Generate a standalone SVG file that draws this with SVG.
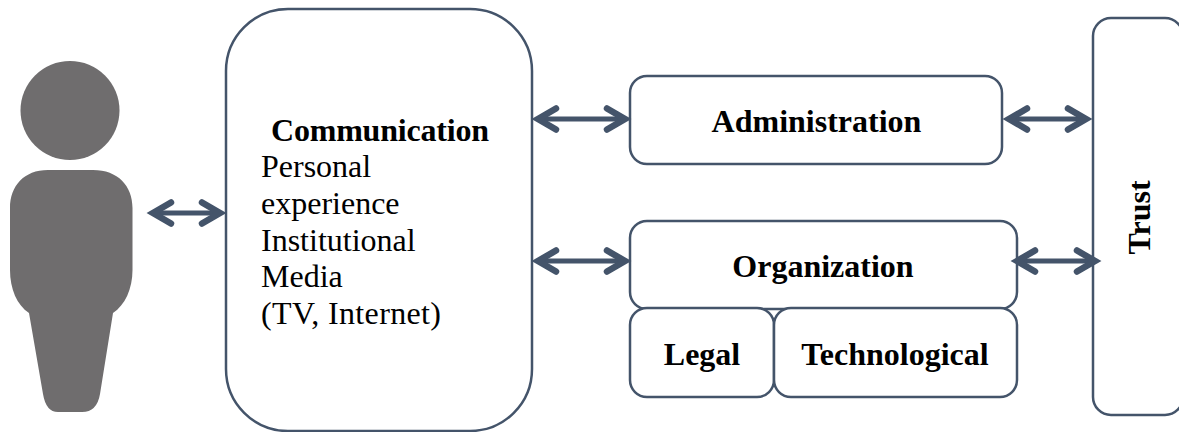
<svg xmlns="http://www.w3.org/2000/svg" width="1179" height="432" viewBox="0 0 1179 432">
<style>
.b{fill:#fff;stroke:#44546a;stroke-width:2.5}
.t{font-family:"Liberation Serif",serif;font-size:32px;fill:#000}
.h{font-weight:bold}
.s{fill:none;stroke:#44546a;stroke-width:5}
.a{fill:none;stroke:#44546a;stroke-width:6.5;stroke-linecap:round;stroke-linejoin:miter;stroke-miterlimit:10}
.p{fill:#6f6d6e}
</style>
<rect width="1179" height="432" fill="#fff"/>
<g id="person">
<circle class="p" cx="70" cy="110.5" r="49.5"/>
<path class="p" d="M48 170H93C118 170 132.500 186 132.500 208V270C132.500 289 125 305 113 313L100 394Q97 412 82 412H58Q46 412 43 394L29 313C17 305 10 289 10 270V208C10 186 24 170 48 170Z"/>
</g>
<g id="communication">
<rect class="b" x="226" y="9" width="306" height="422" rx="62"/>
<text class="t h" x="271" y="141" textLength="218">Communication</text>
<text class="t" x="261" y="177">Personal</text>
<text class="t" x="261" y="214">experience</text>
<text class="t" x="261" y="251">Institutional</text>
<text class="t" x="261" y="287">Media</text>
<text class="t" x="261" y="324" textLength="180">(TV, Internet)</text>
</g>
<g id="administration">
<rect class="b" x="630" y="76" width="372" height="88" rx="17"/>
<text class="t h" x="816.500" y="132" text-anchor="middle">Administration</text>
</g>
<g id="organization">
<rect class="b" x="630" y="221" width="387" height="88" rx="17"/>
<text class="t h" x="823" y="277" text-anchor="middle">Organization</text>
</g>
<g id="legal">
<rect class="b" x="630" y="308" width="144" height="89" rx="17"/>
<text class="t h" x="702" y="365" text-anchor="middle">Legal</text>
</g>
<g id="technological">
<rect class="b" x="774" y="308" width="243" height="89" rx="17"/>
<text class="t h" x="895" y="365" text-anchor="middle">Technological</text>
</g>
<g id="trust">
<rect class="b" x="1093" y="18" width="90" height="397" rx="18"/>
<text class="t h" transform="translate(1150 217.500) rotate(-90)" text-anchor="middle">Trust</text>
</g>
<g id="connectors">
<path class="s" d="M153 213H220"/>
<path class="a" d="M171 202.500L153 213L171 223.500M202 202.500L220 213L202 223.500"/>
<path class="s" d="M538 119H625"/>
<path class="a" d="M556 108.500L538 119L556 129.500M607 108.500L625 119L607 129.500"/>
<path class="s" d="M538 261H625"/>
<path class="a" d="M556 250.500L538 261L556 271.500M607 250.500L625 261L607 271.500"/>
<path class="s" d="M1009 119H1086"/>
<path class="a" d="M1027 108.500L1009 119L1027 129.500M1068 108.500L1086 119L1068 129.500"/>
<path class="s" d="M1017 261H1095"/>
<path class="a" d="M1035 250.500L1017 261L1035 271.500M1077 250.500L1095 261L1077 271.500"/>
</g>
</svg>
